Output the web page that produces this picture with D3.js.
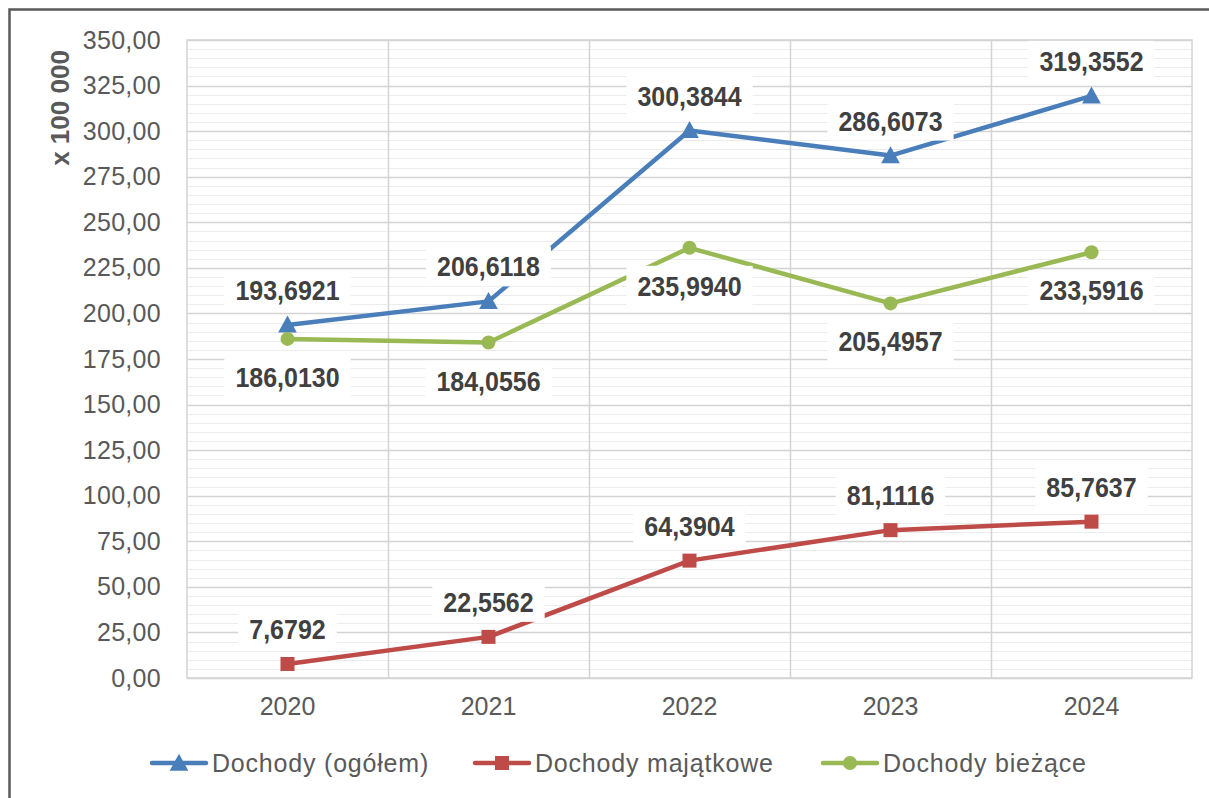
<!DOCTYPE html>
<html>
<head>
<meta charset="utf-8">
<script src="https://cdn.jsdelivr.net/npm/d3@7"></script>
<style>
	body { margin: 0; background: #fff; }
	text { font-family: "Liberation Sans", Arial, sans-serif; }
</style>
</head>
<body>
<div id="chart"></div>
<script>
const years = ["2020", "2021", "2022", "2023", "2024"];
const seriesNames = ["Dochody (ogółem)", "Dochody majątkowe", "Dochody bieżące"];
const ogolem = [193.6921, 206.6118, 300.3844, 286.6073, 319.3552];
const majatkowe = [7.6792, 22.5562, 64.3904, 81.1116, 85.7637];
const biezace = [186.0130, 184.0556, 235.9940, 205.4957, 233.5916];
const yTicks = [0, 25, 50, 75, 100, 125, 150, 175, 200, 225, 250, 275, 300, 325, 350];

const W = 1209, H = 798;
const margin = {top: 40, right: 17, bottom: 120, left: 187},
	width = W - margin.left - margin.right,
	height = H - margin.top - margin.bottom;

const series = [
	{name: seriesNames[0], values: ogolem, color: "#4a7ebb", marker: "triangle", labelPos: "above"},
	{name: seriesNames[1], values: majatkowe, color: "#be4b48", marker: "square", labelPos: "above"},
	{name: seriesNames[2], values: biezace, color: "#98b954", marker: "circle", labelPos: "below"}
];

const fmtComma = (v, n) => v.toFixed(n).replace(".", ",");

const svg = d3.select("#chart")
	.append("svg")
	.attr("width", W)
	.attr("height", H);

// outer frame
svg.append("rect")
	.attr("x", 9.5).attr("y", 9.5)
	.attr("width", W + 20).attr("height", H + 20)
	.attr("fill", "none")
	.attr("stroke", "#5a5a5a")
	.attr("stroke-width", 2.5);

const g = svg.append("g")
	.attr("transform", "translate(" + margin.left + "," + margin.top + ")");

const xScale = d3.scaleBand()
	.domain(years)
	.range([0, width]);

const yScale = d3.scaleLinear()
	.domain([0, 350])
	.range([height, 0]);

// minor gridlines
g.append("g")
	.selectAll("line")
	.data(d3.range(0, 351, 5).filter((d) => d % 25 !== 0))
	.enter().append("line")
	.attr("x1", 0).attr("x2", width)
	.attr("y1", (d) => Math.round(yScale(d)) + 0.5)
	.attr("y2", (d) => Math.round(yScale(d)) + 0.5)
	.attr("stroke", "#ececec")
	.attr("stroke-width", 1);

// major gridlines
g.append("g")
	.selectAll("line")
	.data(yTicks)
	.enter().append("line")
	.attr("x1", 0).attr("x2", width)
	.attr("y1", (d) => Math.round(yScale(d)) + 0.5)
	.attr("y2", (d) => Math.round(yScale(d)) + 0.5)
	.attr("stroke", "#d4d4d4")
	.attr("stroke-width", 1.5);

// vertical gridlines between categories
g.append("g")
	.selectAll("line")
	.data(years.slice(1))
	.enter().append("line")
	.attr("x1", (d) => Math.round(xScale(d)) + 0.5)
	.attr("x2", (d) => Math.round(xScale(d)) + 0.5)
	.attr("y1", 0).attr("y2", height)
	.attr("stroke", "#d4d4d4")
	.attr("stroke-width", 1.5);

// plot border
g.append("rect")
	.attr("x", 0).attr("y", 0)
	.attr("width", width).attr("height", height)
	.attr("fill", "none")
	.attr("stroke", "#d4d4d4")
	.attr("stroke-width", 1.5);

// y axis
const yAxis = d3.axisLeft(yScale)
	.tickValues(yTicks)
	.tickSize(0)
	.tickPadding(26)
	.tickFormat((d) => fmtComma(d, 2));

g.append("g")
	.attr("class", "axis")
	.call(yAxis)
	.call((a) => a.select(".domain").remove())
	.selectAll("text")
	.attr("font-size", 25)
	.attr("letter-spacing", 0.3)
	.attr("fill", "#595959");

// x axis
const xAxis = d3.axisBottom(xScale)
	.tickSize(0)
	.tickPadding(19);

g.append("g")
	.attr("class", "axis")
	.attr("transform", "translate(0," + height + ")")
	.call(xAxis)
	.call((a) => a.select(".domain").remove())
	.selectAll("text")
	.attr("font-size", 25)
	.attr("fill", "#595959");

// axis title
svg.append("text")
	.attr("transform", "translate(69,108) rotate(-90)")
	.attr("text-anchor", "middle")
	.attr("font-size", 26)
	.attr("font-weight", "bold")
	.attr("fill", "#595959")
	.text("x 100 000");

const line = d3.line()
	.x((d, i) => xScale(years[i]) + xScale.bandwidth() / 2)
	.y((d) => yScale(d));

const drawMarker = (sel, type, color, size) => {
	if (type === "triangle") {
		sel.append("path")
			.attr("d", "M0," + (-size * 0.55) + "L" + (size * 0.55) + "," + (size * 0.45) + "L" + (-size * 0.55) + "," + (size * 0.45) + "Z")
			.attr("fill", color);
	} else if (type === "square") {
		sel.append("rect")
			.attr("x", -size / 2).attr("y", -size / 2)
			.attr("width", size).attr("height", size)
			.attr("fill", color);
	} else {
		sel.append("circle")
			.attr("r", size / 2)
			.attr("fill", color);
	}
};

// lines and markers
series.forEach((s) => {
	g.append("path")
		.datum(s.values)
		.attr("d", line)
		.attr("fill", "none")
		.attr("stroke", s.color)
		.attr("stroke-width", 4.5)
		.attr("stroke-linejoin", "round");

	g.append("g")
		.selectAll("g")
		.data(s.values)
		.enter().append("g")
		.attr("transform", (d, i) => "translate(" + (xScale(years[i]) + xScale.bandwidth() / 2) + "," + yScale(d) + ")")
		.each(function () { drawMarker(d3.select(this), s.marker, s.color, s.marker === "triangle" ? 17 : 14); });
});

// data labels
series.forEach((s) => {
	const lab = g.append("g")
		.selectAll("g")
		.data(s.values)
		.enter().append("g")
		.attr("transform", (d, i) => {
			const cx = xScale(years[i]) + xScale.bandwidth() / 2;
			const cy = yScale(d) + (s.labelPos === "above" ? -35 : 38);
			return "translate(" + cx + "," + cy + ")";
		});

	lab.append("rect")
		.attr("x", -63)
		.attr("y", -20)
		.attr("width", 126)
		.attr("height", 40)
		.attr("fill", "#fff");

	lab.append("text")
		.attr("text-anchor", "middle")
		.attr("transform", "scale(1,1.12)")
		.attr("dy", "0.36em")
		.attr("font-size", 25)
		.attr("font-weight", "bold")
		.attr("fill", "#404040")
		.text((d) => fmtComma(d, 4));

	// size box to the text
	lab.each(function () {
		const bb = d3.select(this).select("text").node().getBBox();
		d3.select(this).select("rect")
			.attr("x", bb.x - 11)
			.attr("width", bb.width + 22);
	});
});

// legend
const legendX = [152, 475, 823];
const legend = svg.append("g")
	.selectAll("g")
	.data(series)
	.enter().append("g")
	.attr("transform", (d, i) => "translate(" + legendX[i] + ",763)");

legend.append("line")
	.attr("x1", 0).attr("x2", 54)
	.attr("stroke", (d) => d.color)
	.attr("stroke-width", 4.5)
	.attr("stroke-linecap", "round");

legend.append("g")
	.attr("transform", "translate(27,0)")
	.each(function (d) { drawMarker(d3.select(this), d.marker, d.color, d.marker === "triangle" ? 17 : 14); });

legend.append("text")
	.attr("x", 60)
	.attr("dy", "0.36em")
	.attr("font-size", 25)
	.attr("letter-spacing", 0.8)
	.attr("fill", "#595959")
	.text((d) => d.name);
</script>
</body>
</html>
